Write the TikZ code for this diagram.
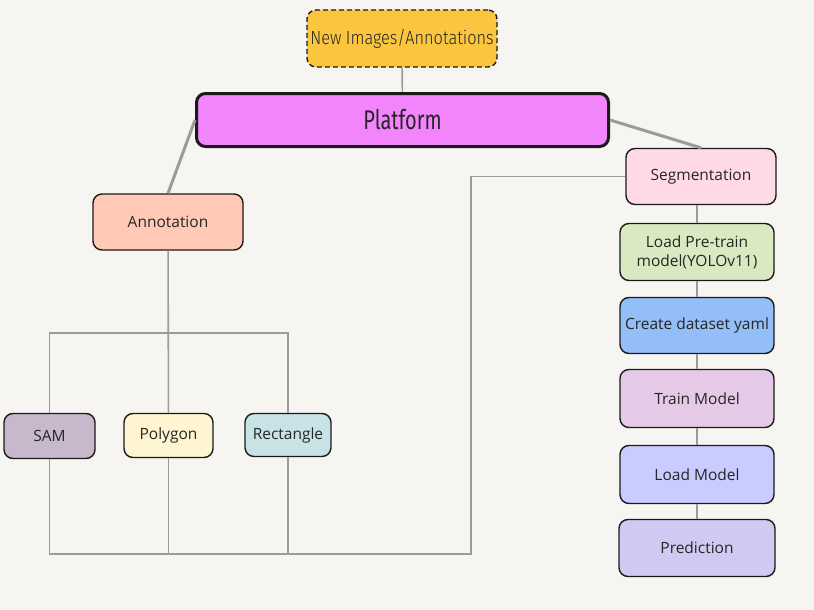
\documentclass[tikz,border=0pt]{standalone}
\usepackage{fontspec}
\setmainfont{Open Sans}
\newfontfamily\condfont[FakeStretch=0.74]{Fira Sans}
\newfontfamily\narrowfont[FakeStretch=0.86]{Fira Sans Light}
\definecolor{bgcol}{HTML}{F6F5F1}
\definecolor{linecol}{HTML}{9B9B9B}
\definecolor{edgecol}{HTML}{1A1A1A}
\definecolor{newcol}{HTML}{FBC540}
\definecolor{platcol}{HTML}{F285FC}
\definecolor{segcol}{HTML}{FFDAE6}
\definecolor{anncol}{HTML}{FFC9B5}
\definecolor{pretraincol}{HTML}{D9EAC2}
\definecolor{yamlcol}{HTML}{93BEF7}
\definecolor{traincol}{HTML}{E5CAE8}
\definecolor{loadcol}{HTML}{C8CCFE}
\definecolor{predcol}{HTML}{CECAF2}
\definecolor{samcol}{HTML}{C7B8CB}
\definecolor{polycol}{HTML}{FFF5D1}
\definecolor{rectcol}{HTML}{C8E3E6}

\begin{document}
\begin{tikzpicture}[x=1pt, y=-1pt,
    box/.style={shape=rectangle, rounded corners=9pt, draw=edgecol, line width=1.4pt,
                inner sep=0pt, align=center, text=black!85,
                font=\fontsize{15.5}{19}\selectfont},
    wire/.style={draw=linecol, line width=1.6pt},
    thickwire/.style={draw=linecol, line width=3pt}]
    \fill[bgcol] (0,0) rectangle (814,610);
    \useasboundingbox (0,0) rectangle (814,610);

    %%   (lable)  (x, y)     {\text}
    \node[box, fill=newcol, dash pattern=on 5pt off 3pt, minimum width=190pt, minimum height=57pt,
          font=\narrowfont\fontsize{19}{21}\selectfont] (NEW) at (402, 38.5) {New Images/Annotations};
    \node[box, fill=platcol, line width=3pt, minimum width=412pt, minimum height=53pt,
          font=\condfont\fontsize{27}{30}\selectfont] (PLAT) at (402.5, 120) {Platform};

    \node[box, fill=anncol,  minimum width=150pt, minimum height=56pt] (ANN) at (168, 222) {Annotation};
    \node[box, fill=samcol,  minimum width=91pt,  minimum height=45pt] (SAM) at (49.5, 436) {SAM};
    \node[box, fill=polycol, minimum width=89pt,  minimum height=44pt] (POLY) at (168.5, 435.5) {Polygon};
    \node[box, fill=rectcol, minimum width=86pt,  minimum height=43pt] (RECT) at (288, 435) {Rectangle};

    \node[box, fill=segcol,      minimum width=150pt, minimum height=56pt] (SEG)   at (701, 176.5) {Segmentation};
    \node[box, fill=pretraincol, minimum width=154pt, minimum height=57pt] (PRE)   at (697, 252) {Load Pre-train\\model(YOLOv11)};
    \node[box, fill=yamlcol,     minimum width=154pt, minimum height=56pt] (YAML)  at (697, 325.5) {Create dataset yaml};
    \node[box, fill=traincol,    minimum width=154pt, minimum height=58pt] (TRAIN) at (697, 398.5) {Train Model};
    \node[box, fill=loadcol,     minimum width=154pt, minimum height=58pt] (LOAD)  at (697, 474.5) {Load Model};
    \node[box, fill=predcol,     minimum width=156pt, minimum height=57pt] (PRED)  at (697, 548) {Prediction};

    \coordinate (TOPBAR) at (48, 333);
    \coordinate (BOTBAR) at (471, 554);

    \path[wire] (NEW) edge (PLAT);
    \path[thickwire] (PLAT.west) edge (ANN.north);
    \path[thickwire] (PLAT.east) edge (SEG.north);
    %
    \path[wire] (ANN) edge (POLY);
    \draw[wire] (SAM.north) -- (SAM.north |- TOPBAR) -- (RECT.north |- TOPBAR) -- (RECT.north);
    \draw[wire] (SEG.west) -| (BOTBAR) -- (SAM.south |- BOTBAR) -- (SAM.south);
    \draw[wire] (POLY.south) -- (POLY.south |- BOTBAR);
    \draw[wire] (RECT.south) -- (RECT.south |- BOTBAR);

    \draw[wire] (PRE.north) -- (PRE.north |- SEG.south);
    \path[wire] (PRE) edge (YAML);
    \path[wire] (YAML) edge (TRAIN);
    \path[wire] (TRAIN) edge (LOAD);
    \path[wire] (LOAD) edge (PRED);

  \end{tikzpicture}
\end{document}
